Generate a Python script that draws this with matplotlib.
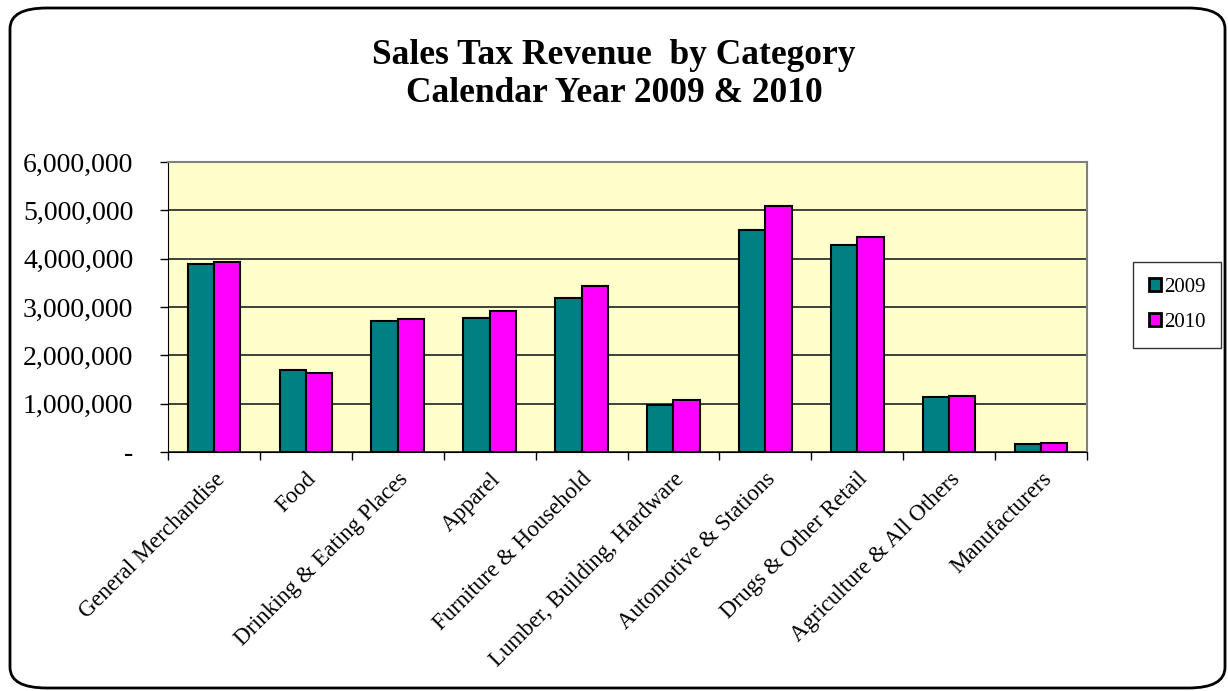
import matplotlib
matplotlib.use("Agg")
import matplotlib.pyplot as plt
import numpy as np
from matplotlib.patches import FancyBboxPatch
from matplotlib.ticker import FuncFormatter, FixedLocator

categories = ["General Merchandise", "Food", "Drinking & Eating Places", "Apparel",
              "Furniture & Household", "Lumber, Building, Hardware",
              "Automotive & Stations", "Drugs & Other Retail",
              "Agriculture & All Others", "Manufacturers"]
sales_2009 = [3880000, 1700000, 2720000, 2770000, 3190000, 980000, 4590000, 4280000, 1130000, 170000]
sales_2010 = [3930000, 1640000, 2750000, 2910000, 3430000, 1080000, 5100000, 4450000, 1150000, 190000]
series_labels = ["2009", "2010"]
y_ticks = [0, 1000000, 2000000, 3000000, 4000000, 5000000, 6000000]

plt.rcParams['font.family'] = ['Liberation Serif', 'DejaVu Serif']

fig = plt.figure(figsize=(12.28, 6.91), dpi=100)
W, H = 1228, 691
# rounded outer border
border = FancyBboxPatch((10 / W, 3 / H), (1225 - 10) / W, (688 - 8) / H,
                        boxstyle="round,pad=0,rounding_size=0.03",
                        transform=fig.transFigure, fill=False,
                        edgecolor='black', linewidth=2)
fig.patches.append(border)

ax = fig.add_axes([168 / W, 1 - 452 / H, (1087 - 168) / W, (452 - 162) / H])
ax.set_facecolor('#FFFFCC')

x = np.arange(len(categories))
bw = 1 / 3.5
ax.bar(x - bw / 2, sales_2009, bw, color='#008080', edgecolor='black', linewidth=1.5,
       label=series_labels[0], zorder=3)
ax.bar(x + bw / 2, sales_2010, bw, color='#FF00FF', edgecolor='black', linewidth=1.5,
       label=series_labels[1], zorder=3)

ax.set_xlim(-0.5, len(categories) - 0.5)
ax.set_ylim(0, 6000000)
ax.set_yticks(y_ticks)
ax.yaxis.set_major_formatter(FuncFormatter(lambda v, p: "-" if v == 0 else f"{int(v):,}"))
ax.tick_params(axis='y', labelsize=20, length=6, width=1, direction='out', pad=19)
ax.yaxis.grid(True, color='#333333', linewidth=1.3, zorder=0)

ax.set_xticks(x)
ax.set_xticklabels(categories, rotation=45, ha='right', rotation_mode='anchor', fontsize=16.5)
ax.tick_params(axis='x', length=0, pad=12)
ax.xaxis.set_minor_locator(FixedLocator(np.arange(-0.5, len(categories), 1.0)))
ax.tick_params(axis='x', which='minor', length=6, width=1, direction='out')

for s in ['top', 'right']:
    ax.spines[s].set_color('#808080')
    ax.spines[s].set_linewidth(1.5)
ax.spines['left'].set_color('black')
ax.spines['bottom'].set_color('black')

fig.text(0.5, 1 - 55 / H, "Sales Tax Revenue  by Category", ha='center', va='center',
         fontsize=25.5, fontweight='bold')
fig.text(0.5, 1 - 93 / H, "Calendar Year 2009 & 2010", ha='center', va='center',
         fontsize=25.5, fontweight='bold')

leg = ax.legend(loc='upper left', bbox_to_anchor=(1133 / W, 1 - 262 / H),
                bbox_transform=fig.transFigure, borderaxespad=0, fontsize=15, frameon=True,
                fancybox=False, edgecolor='black', handlelength=0.58, handleheight=0.58,
                handletextpad=0.15, labelspacing=0.8, borderpad=0.75)
leg.get_frame().set_linewidth(1.0)
for h in leg.legend_handles:
    h.set_linewidth(2)

fig.savefig("out.png", dpi=100, facecolor='white')
